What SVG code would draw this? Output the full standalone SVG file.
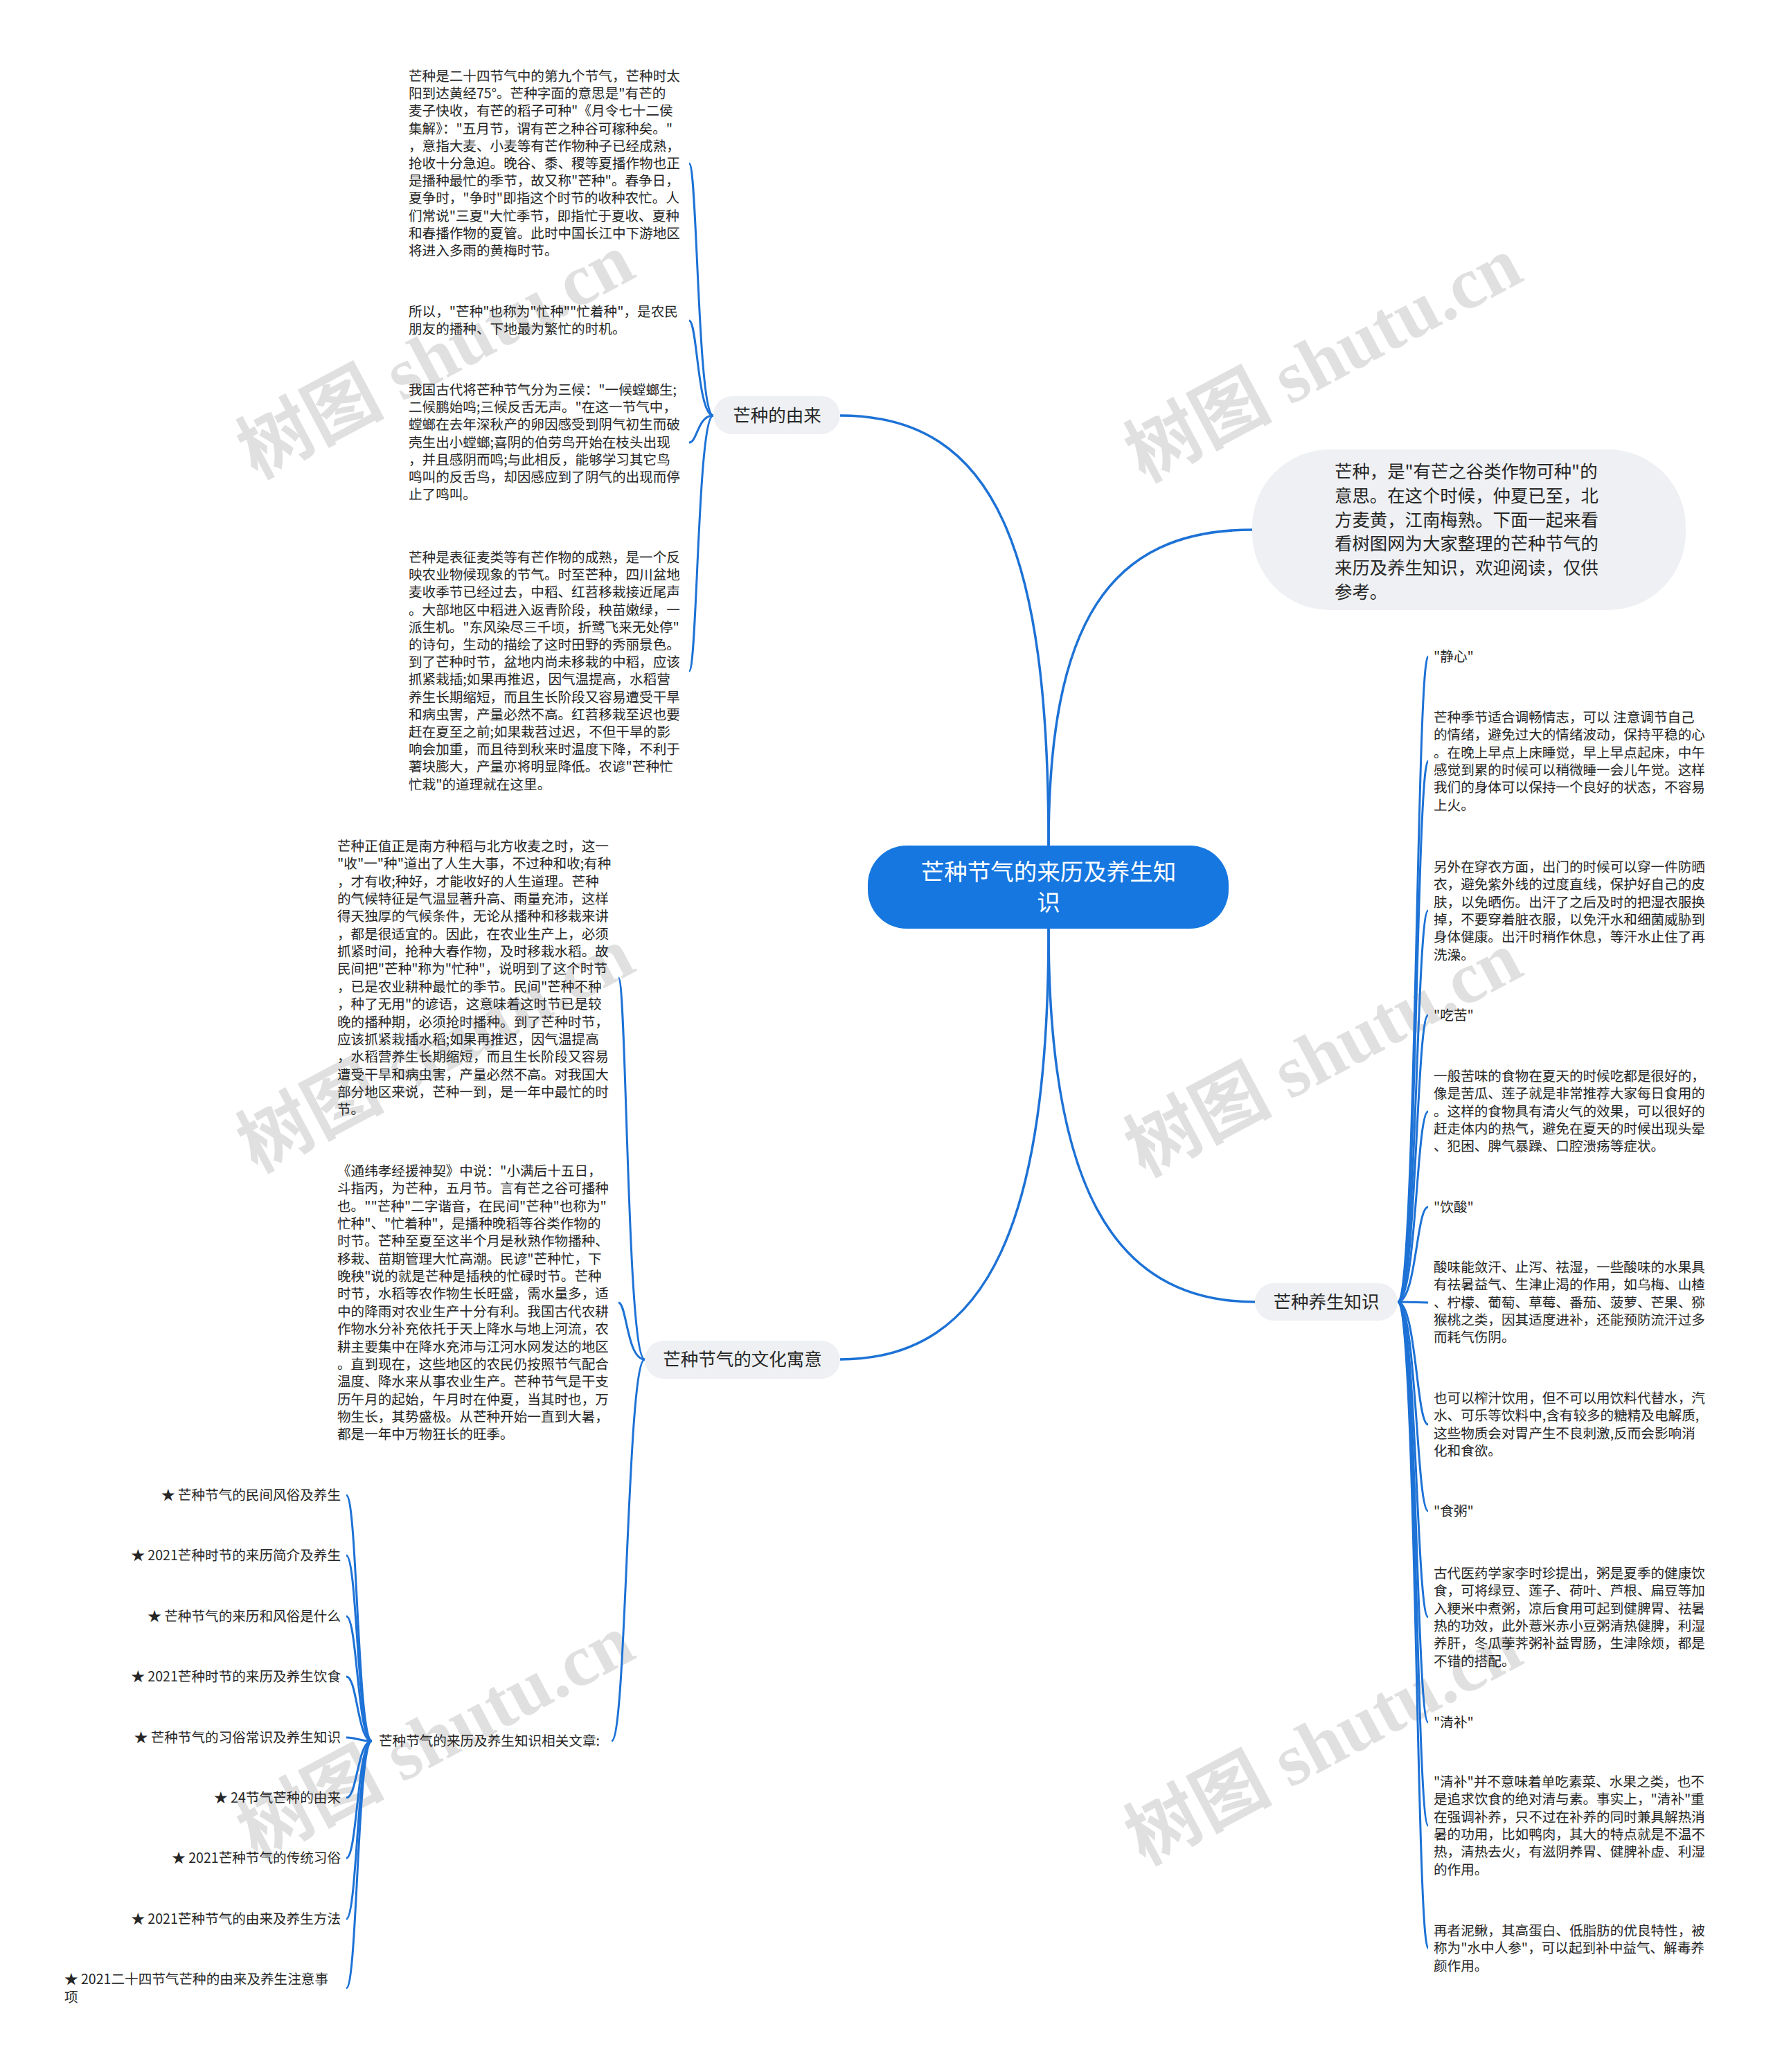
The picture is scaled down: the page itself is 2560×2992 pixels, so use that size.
<svg xmlns="http://www.w3.org/2000/svg" width="2560" height="2992" viewBox="0 0 2560 2992">
<style>
.t{font-family:"Noto Sans CJK SC","Noto Sans",sans-serif;font-size:19.6px;fill:#262626}
.tr{font-family:"Noto Sans CJK SC","Noto Sans",sans-serif;font-size:19.6px;fill:#262626;text-anchor:end}
.b{font-family:"Noto Sans CJK SC","Noto Sans",sans-serif;font-size:25.5px;fill:#262626;text-anchor:middle}
.i{font-family:"Noto Sans CJK SC","Noto Sans",sans-serif;font-size:25.4px;fill:#262626}
.c{font-family:"Noto Sans CJK SC","Noto Sans",sans-serif;font-size:33.5px;fill:#ffffff;text-anchor:middle}
.pill{fill:#eef0f3}
.ln{fill:none;stroke:#1d72d6;stroke-width:3}
.lm{fill:none;stroke:#1d72d6;stroke-width:3.5}
.wm{font-family:"Liberation Serif","Noto Sans CJK SC",serif;font-weight:bold;font-size:106px;fill:#d4d4d4;opacity:0.7}
</style>
<rect width="2560" height="2992" fill="#ffffff"/>
<g id="watermarks">
<text class="wm" x="370" y="692" transform="rotate(-28 370 692)">树图 shutu.cn</text>
<text class="wm" x="1652" y="697" transform="rotate(-28 1652 697)">树图 shutu.cn</text>
<text class="wm" x="370" y="1694" transform="rotate(-28 370 1694)">树图 shutu.cn</text>
<text class="wm" x="1652" y="1700" transform="rotate(-28 1652 1700)">树图 shutu.cn</text>
<text class="wm" x="370" y="2686" transform="rotate(-28 370 2686)">树图 shutu.cn</text>
<text class="wm" x="1652" y="2694" transform="rotate(-28 1652 2694)">树图 shutu.cn</text>
</g>
<g id="connectors">
<path class="lm" d="M1213 600 C1440 600 1514 800 1514 1221"/>
<path class="lm" d="M1808 765 C1600 765 1514 900 1514 1221"/>
<path class="lm" d="M1514 1341 C1514 1700 1600 1880 1812 1880"/>
<path class="lm" d="M1514 1341 C1514 1760 1430 1963 1213 1963"/>
<path class="ln" d="M1030 600 C1007 600 1007 236 995 236"/>
<path class="ln" d="M1030 600 C1007 600 1007 463 995 463"/>
<path class="ln" d="M1030 600 C1007 600 1007 639 995 639"/>
<path class="ln" d="M1030 600 C1007 600 1007 969 995 969"/>
<path class="ln" d="M931 1963 C905 1963 905 1412 893 1412"/>
<path class="ln" d="M931 1963 C905 1963 905 1881 893 1881"/>
<path class="ln" d="M931 1963 C905 1963 905 2514 883 2514"/>
<path class="ln" d="M537 2514 C516 2514 516 2159 500 2159"/>
<path class="ln" d="M537 2514 C516 2514 516 2246 500 2246"/>
<path class="ln" d="M537 2514 C516 2514 516 2334 500 2334"/>
<path class="ln" d="M537 2514 C516 2514 516 2421 500 2421"/>
<path class="ln" d="M537 2514 C516 2514 516 2509 500 2509"/>
<path class="ln" d="M537 2514 C516 2514 516 2596 500 2596"/>
<path class="ln" d="M537 2514 C516 2514 516 2683 500 2683"/>
<path class="ln" d="M537 2514 C516 2514 516 2771 500 2771"/>
<path class="ln" d="M537 2514 C516 2514 516 2871 500 2871"/>
<path class="ln" d="M2018 1880 C2045 1880 2045 948 2062 948"/>
<path class="ln" d="M2018 1880 C2045 1880 2045 1099 2062 1099"/>
<path class="ln" d="M2018 1880 C2045 1880 2045 1315 2062 1315"/>
<path class="ln" d="M2018 1880 C2045 1880 2045 1466 2062 1466"/>
<path class="ln" d="M2018 1880 C2045 1880 2045 1605 2062 1605"/>
<path class="ln" d="M2018 1880 C2045 1880 2045 1743 2062 1743"/>
<path class="ln" d="M2018 1880 C2045 1880 2045 1881 2062 1881"/>
<path class="ln" d="M2018 1880 C2045 1880 2045 2057 2062 2057"/>
<path class="ln" d="M2018 1880 C2045 1880 2045 2182 2062 2182"/>
<path class="ln" d="M2018 1880 C2045 1880 2045 2335 2062 2335"/>
<path class="ln" d="M2018 1880 C2045 1880 2045 2487 2062 2487"/>
<path class="ln" d="M2018 1880 C2045 1880 2045 2636 2062 2636"/>
<path class="ln" d="M2018 1880 C2045 1880 2045 2813 2062 2813"/>
</g>
<g id="root">
<rect x="1253" y="1221" width="521" height="120" rx="56" fill="#1677e0"/>
<text class="c" x="1514" y="1271">芒种节气的来历及养生知</text>
<text class="c" x="1514" y="1315">识</text>
</g>
<g id="intro">
<rect class="pill" x="1808" y="649" width="626" height="232" rx="112"/>
<text class="i" x="1927" y="690"><tspan x="1927">芒种，是"有芒之谷类作物可种"的</tspan><tspan x="1927" dy="34.8">意思。在这个时候，仲夏已至，北</tspan><tspan x="1927" dy="34.8">方麦黄，江南梅熟。下面一起来看</tspan><tspan x="1927" dy="34.8">看树图网为大家整理的芒种节气的</tspan><tspan x="1927" dy="34.8">来历及养生知识，欢迎阅读，仅供</tspan><tspan x="1927" dy="34.8">参考。</tspan></text>
</g>
<g id="branch-youlai">
<rect class="pill" x="1030" y="572" width="183" height="55" rx="27.5"/>
<text class="b" x="1122" y="609">芒种的由来</text>
</g>
<g id="youlai-1">
<text class="t" x="590" y="117"><tspan x="590">芒种是二十四节气中的第九个节气，芒种时太</tspan><tspan x="590" dy="25.2">阳到达黄经75°。芒种字面的意思是"有芒的</tspan><tspan x="590" dy="25.2">麦子快收，有芒的稻子可种"《月令七十二侯</tspan><tspan x="590" dy="25.2">集解》："五月节，谓有芒之种谷可稼种矣。"</tspan><tspan x="590" dy="25.2">，意指大麦、小麦等有芒作物种子已经成熟，</tspan><tspan x="590" dy="25.2">抢收十分急迫。晚谷、黍、稷等夏播作物也正</tspan><tspan x="590" dy="25.2">是播种最忙的季节，故又称"芒种"。春争日，</tspan><tspan x="590" dy="25.2">夏争时，"争时"即指这个时节的收种农忙。人</tspan><tspan x="590" dy="25.2">们常说"三夏"大忙季节，即指忙于夏收、夏种</tspan><tspan x="590" dy="25.2">和春播作物的夏管。此时中国长江中下游地区</tspan><tspan x="590" dy="25.2">将进入多雨的黄梅时节。</tspan></text>
</g>
<g id="youlai-2">
<text class="t" x="590" y="457"><tspan x="590">所以，"芒种"也称为"忙种""忙着种"，是农民</tspan><tspan x="590" dy="25.2">朋友的播种、下地最为繁忙的时机。</tspan></text>
</g>
<g id="youlai-3">
<text class="t" x="590" y="570"><tspan x="590">我国古代将芒种节气分为三候："一候螳螂生;</tspan><tspan x="590" dy="25.2">二候鹏始鸣;三候反舌无声。"在这一节气中，</tspan><tspan x="590" dy="25.2">螳螂在去年深秋产的卵因感受到阴气初生而破</tspan><tspan x="590" dy="25.2">壳生出小螳螂;喜阴的伯劳鸟开始在枝头出现</tspan><tspan x="590" dy="25.2">，并且感阴而鸣;与此相反，能够学习其它鸟</tspan><tspan x="590" dy="25.2">鸣叫的反舌鸟，却因感应到了阴气的出现而停</tspan><tspan x="590" dy="25.2">止了鸣叫。</tspan></text>
</g>
<g id="youlai-4">
<text class="t" x="590" y="812"><tspan x="590">芒种是表征麦类等有芒作物的成熟，是一个反</tspan><tspan x="590" dy="25.2">映农业物候现象的节气。时至芒种，四川盆地</tspan><tspan x="590" dy="25.2">麦收季节已经过去，中稻、红苕移栽接近尾声</tspan><tspan x="590" dy="25.2">。大部地区中稻进入返青阶段，秧苗嫩绿，一</tspan><tspan x="590" dy="25.2">派生机。"东风染尽三千顷，折鹭飞来无处停"</tspan><tspan x="590" dy="25.2">的诗句，生动的描绘了这时田野的秀丽景色。</tspan><tspan x="590" dy="25.2">到了芒种时节，盆地内尚未移栽的中稻，应该</tspan><tspan x="590" dy="25.2">抓紧栽插;如果再推迟，因气温提高，水稻营</tspan><tspan x="590" dy="25.2">养生长期缩短，而且生长阶段又容易遭受干旱</tspan><tspan x="590" dy="25.2">和病虫害，产量必然不高。红苕移栽至迟也要</tspan><tspan x="590" dy="25.2">赶在夏至之前;如果栽苕过迟，不但干旱的影</tspan><tspan x="590" dy="25.2">响会加重，而且待到秋来时温度下降，不利于</tspan><tspan x="590" dy="25.2">薯块膨大，产量亦将明显降低。农谚"芒种忙</tspan><tspan x="590" dy="25.2">忙栽"的道理就在这里。</tspan></text>
</g>
<g id="branch-wenhua">
<rect class="pill" x="931" y="1936" width="282" height="55" rx="27.5"/>
<text class="b" x="1072" y="1972">芒种节气的文化寓意</text>
</g>
<g id="wenhua-1">
<text class="t" x="487" y="1229"><tspan x="487">芒种正值正是南方种稻与北方收麦之时，这一</tspan><tspan x="487" dy="25.35">"收"一"种"道出了人生大事，不过种和收;有种</tspan><tspan x="487" dy="25.35">，才有收;种好，才能收好的人生道理。芒种</tspan><tspan x="487" dy="25.35">的气候特征是气温显著升高、雨量充沛，这样</tspan><tspan x="487" dy="25.35">得天独厚的气候条件，无论从播种和移栽来讲</tspan><tspan x="487" dy="25.35">，都是很适宜的。因此，在农业生产上，必须</tspan><tspan x="487" dy="25.35">抓紧时间，抢种大春作物，及时移栽水稻。故</tspan><tspan x="487" dy="25.35">民间把"芒种"称为"忙种"，说明到了这个时节</tspan><tspan x="487" dy="25.35">，已是农业耕种最忙的季节。民间"芒种不种</tspan><tspan x="487" dy="25.35">，种了无用"的谚语，这意味着这时节已是较</tspan><tspan x="487" dy="25.35">晚的播种期，必须抢时播种。到了芒种时节，</tspan><tspan x="487" dy="25.35">应该抓紧栽插水稻;如果再推迟，因气温提高</tspan><tspan x="487" dy="25.35">，水稻营养生长期缩短，而且生长阶段又容易</tspan><tspan x="487" dy="25.35">遭受干旱和病虫害，产量必然不高。对我国大</tspan><tspan x="487" dy="25.35">部分地区来说，芒种一到，是一年中最忙的时</tspan><tspan x="487" dy="25.35">节。</tspan></text>
</g>
<g id="wenhua-2">
<text class="t" x="487" y="1698"><tspan x="487">《通纬孝经援神契》中说："小满后十五日，</tspan><tspan x="487" dy="25.35">斗指丙，为芒种，五月节。言有芒之谷可播种</tspan><tspan x="487" dy="25.35">也。""芒种"二字谐音，在民间"芒种"也称为"</tspan><tspan x="487" dy="25.35">忙种"、"忙着种"，是播种晚稻等谷类作物的</tspan><tspan x="487" dy="25.35">时节。芒种至夏至这半个月是秋熟作物播种、</tspan><tspan x="487" dy="25.35">移栽、苗期管理大忙高潮。民谚"芒种忙，下</tspan><tspan x="487" dy="25.35">晚秧"说的就是芒种是插秧的忙碌时节。芒种</tspan><tspan x="487" dy="25.35">时节，水稻等农作物生长旺盛，需水量多，适</tspan><tspan x="487" dy="25.35">中的降雨对农业生产十分有利。我国古代农耕</tspan><tspan x="487" dy="25.35">作物水分补充依托于天上降水与地上河流，农</tspan><tspan x="487" dy="25.35">耕主要集中在降水充沛与江河水网发达的地区</tspan><tspan x="487" dy="25.35">。直到现在，这些地区的农民仍按照节气配合</tspan><tspan x="487" dy="25.35">温度、降水来从事农业生产。芒种节气是干支</tspan><tspan x="487" dy="25.35">历午月的起始，午月时在仲夏，当其时也，万</tspan><tspan x="487" dy="25.35">物生长，其势盛极。从芒种开始一直到大暑，</tspan><tspan x="487" dy="25.35">都是一年中万物狂长的旺季。</tspan></text>
</g>
<g id="wenhua-3">
<text class="t" x="547" y="2521">芒种节气的来历及养生知识相关文章:</text>
</g>
<g id="articles">
<text class="tr" x="492" y="2166">★ 芒种节气的民间风俗及养生</text>
<text class="tr" x="492" y="2253">★ 2021芒种时节的来历简介及养生</text>
<text class="tr" x="492" y="2341">★ 芒种节气的来历和风俗是什么</text>
<text class="tr" x="492" y="2428">★ 2021芒种时节的来历及养生饮食</text>
<text class="tr" x="492" y="2516">★ 芒种节气的习俗常识及养生知识</text>
<text class="tr" x="492" y="2603">★ 24节气芒种的由来</text>
<text class="tr" x="492" y="2690">★ 2021芒种节气的传统习俗</text>
<text class="tr" x="492" y="2778">★ 2021芒种节气的由来及养生方法</text>
<text class="t" x="93" y="2865"><tspan x="93">★ 2021二十四节气芒种的由来及养生注意事</tspan><tspan x="93" dy="26">项</tspan></text>
</g>
<g id="branch-yangsheng">
<rect class="pill" x="1812" y="1853" width="206" height="54" rx="27"/>
<text class="b" x="1915" y="1889">芒种养生知识</text>
</g>
<g id="yangsheng-leaves">
<text class="t" x="2070" y="955">"静心"</text>
<text class="t" x="2070" y="1043"><tspan x="2070">芒种季节适合调畅情志，可以 注意调节自己</tspan><tspan x="2070" dy="25.3">的情绪，避免过大的情绪波动，保持平稳的心</tspan><tspan x="2070" dy="25.3">。在晚上早点上床睡觉，早上早点起床，中午</tspan><tspan x="2070" dy="25.3">感觉到累的时候可以稍微睡一会儿午觉。这样</tspan><tspan x="2070" dy="25.3">我们的身体可以保持一个良好的状态，不容易</tspan><tspan x="2070" dy="25.3">上火。</tspan></text>
<text class="t" x="2070" y="1259"><tspan x="2070">另外在穿衣方面，出门的时候可以穿一件防晒</tspan><tspan x="2070" dy="25.3">衣，避免紫外线的过度直线，保护好自己的皮</tspan><tspan x="2070" dy="25.3">肤，以免晒伤。出汗了之后及时的把湿衣服换</tspan><tspan x="2070" dy="25.3">掉，不要穿着脏衣服，以免汗水和细菌威胁到</tspan><tspan x="2070" dy="25.3">身体健康。出汗时稍作休息，等汗水止住了再</tspan><tspan x="2070" dy="25.3">洗澡。</tspan></text>
<text class="t" x="2070" y="1473">"吃苦"</text>
<text class="t" x="2070" y="1561"><tspan x="2070">一般苦味的食物在夏天的时候吃都是很好的，</tspan><tspan x="2070" dy="25.3">像是苦瓜、莲子就是非常推荐大家每日食用的</tspan><tspan x="2070" dy="25.3">。这样的食物具有清火气的效果，可以很好的</tspan><tspan x="2070" dy="25.3">赶走体内的热气，避免在夏天的时候出现头晕</tspan><tspan x="2070" dy="25.3">、犯困、脾气暴躁、口腔溃疡等症状。</tspan></text>
<text class="t" x="2070" y="1750">"饮酸"</text>
<text class="t" x="2070" y="1837"><tspan x="2070">酸味能敛汗、止泻、祛湿，一些酸味的水果具</tspan><tspan x="2070" dy="25.3">有祛暑益气、生津止渴的作用，如乌梅、山楂</tspan><tspan x="2070" dy="25.3">、柠檬、葡萄、草莓、番茄、菠萝、芒果、猕</tspan><tspan x="2070" dy="25.3">猴桃之类，因其适度进补，还能预防流汗过多</tspan><tspan x="2070" dy="25.3">而耗气伤阴。</tspan></text>
<text class="t" x="2070" y="2026"><tspan x="2070">也可以榨汁饮用，但不可以用饮料代替水，汽</tspan><tspan x="2070" dy="25.3">水、可乐等饮料中,含有较多的糖精及电解质,</tspan><tspan x="2070" dy="25.3">这些物质会对胃产生不良刺激,反而会影响消</tspan><tspan x="2070" dy="25.3">化和食欲。</tspan></text>
<text class="t" x="2070" y="2189">"食粥"</text>
<text class="t" x="2070" y="2279"><tspan x="2070">古代医药学家李时珍提出，粥是夏季的健康饮</tspan><tspan x="2070" dy="25.3">食，可将绿豆、莲子、荷叶、芦根、扁豆等加</tspan><tspan x="2070" dy="25.3">入粳米中煮粥，凉后食用可起到健脾胃、祛暑</tspan><tspan x="2070" dy="25.3">热的功效，此外薏米赤小豆粥清热健脾，利湿</tspan><tspan x="2070" dy="25.3">养肝，冬瓜荸荠粥补益胃肠，生津除烦，都是</tspan><tspan x="2070" dy="25.3">不错的搭配。</tspan></text>
<text class="t" x="2070" y="2494">"清补"</text>
<text class="t" x="2070" y="2580"><tspan x="2070">"清补"并不意味着单吃素菜、水果之类，也不</tspan><tspan x="2070" dy="25.3">是追求饮食的绝对清与素。事实上，"清补"重</tspan><tspan x="2070" dy="25.3">在强调补养，只不过在补养的同时兼具解热消</tspan><tspan x="2070" dy="25.3">暑的功用，比如鸭肉，其大的特点就是不温不</tspan><tspan x="2070" dy="25.3">热，清热去火，有滋阴养胃、健脾补虚、利湿</tspan><tspan x="2070" dy="25.3">的作用。</tspan></text>
<text class="t" x="2070" y="2795"><tspan x="2070">再者泥鳅，其高蛋白、低脂肪的优良特性，被</tspan><tspan x="2070" dy="25.3">称为"水中人参"，可以起到补中益气、解毒养</tspan><tspan x="2070" dy="25.3">颜作用。</tspan></text>
</g>
</svg>
